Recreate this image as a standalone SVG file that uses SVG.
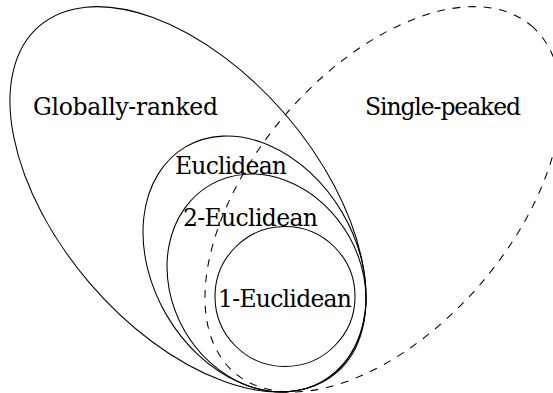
<svg xmlns="http://www.w3.org/2000/svg" width="553" height="393" viewBox="0 0 553 393">
<style>
.set{fill:none;stroke:#000;stroke-width:1.05}
.dash{stroke-dasharray:7.8 7.8}
text{font-family:'DejaVu Serif','Liberation Serif',serif;font-size:23.5px;fill:#000}
</style>
<rect width="553" height="393" fill="#fff"/>
<g id="globally-ranked">
<ellipse class="set" cx="188" cy="199.3" rx="228.3" ry="129.2" transform="rotate(49.4 188 199.3)"/>
<text x="33" y="115" textLength="185">Globally-ranked</text>
</g>
<g id="single-peaked">
<ellipse class="set dash" cx="383" cy="199.3" rx="228.3" ry="129.2" transform="rotate(-49.4 383 199.3)"/>
<text x="365" y="115" textLength="156">Single-peaked</text>
</g>
<g id="euclidean">
<ellipse class="set" cx="254.5" cy="264" rx="135.9" ry="101.7" transform="rotate(59.5 254.5 264)"/>
<text x="175" y="174" textLength="112">Euclidean</text>
</g>
<g id="two-euclidean">
<ellipse class="set" cx="266.5" cy="283" rx="113.1" ry="94.8" transform="rotate(60.7 266.5 283)"/>
<text x="183" y="226" textLength="135">2-Euclidean</text>
</g>
<g id="one-euclidean">
<circle class="set" cx="285" cy="296.5" r="70"/>
<text x="218" y="307" textLength="134">1-Euclidean</text>
</g>
<g id="connectors"></g>
</svg>
